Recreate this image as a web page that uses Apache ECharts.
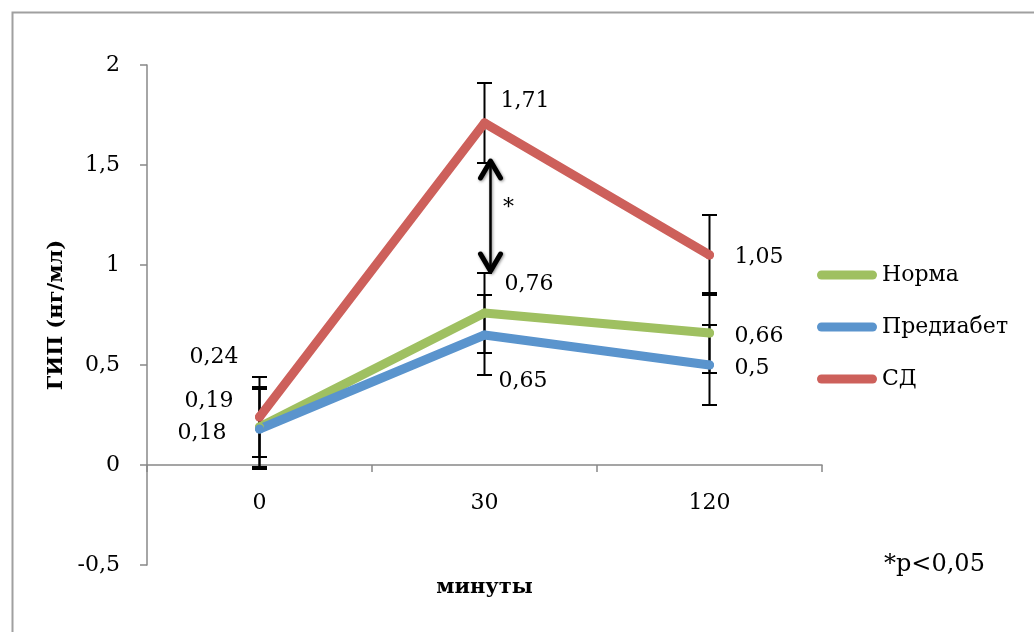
<!DOCTYPE html>
<html>
<head>
<meta charset="utf-8">
<script src="https://cdn.jsdelivr.net/npm/echarts@6/dist/echarts.min.js"></script>
<style>
html,body{margin:0;padding:0;background:#fff;}
#c{width:1034px;height:632px;}
</style>
</head>
<body>
<div id="c"></div>
<script>
const categories = ['0', '30', '120'];
const seriesNames = ['Норма', 'Предиабет', 'СД'];
const norma = [0.19, 0.76, 0.66];
const prediabet = [0.18, 0.65, 0.5];
const sd = [0.24, 1.71, 1.05];
const errNorma = [0.2, 0.2, 0.2];
const errPrediabet = [0.2, 0.2, 0.2];
const errSd = [0.2, 0.2, 0.2];
const yMin = -0.5, yMax = 2, yStep = 0.5;
const arrowFrom = 1.525, arrowTo = 0.965, arrowCat = 1;
const sigNote = '*p<0,05';

const FONT = 'DejaVu Serif';
const colors = ['#9FC061', '#5A94CD', '#CD605B'];
const fmt = v => String(v).replace('.', ',');

// label placement per point (style only)
const labelCfg = {
  'Норма':     [{align:'right', dx:-26, dy:-26}, {align:'left', dx:20, dy:-29}, {align:'left', dx:25, dy:3}],
  'Предиабет': [{align:'right', dx:-33, dy:4},   {align:'left', dx:14, dy:46},  {align:'left', dx:25, dy:3}],
  'СД':        [{align:'right', dx:-21, dy:-60}, {align:'left', dx:16, dy:-22}, {align:'left', dx:25, dy:2}]
};

function buildData(name, vals) {
  return vals.map((v, i) => {
    const c = labelCfg[name][i];
    return {
      value: v,
      label: {
        show: true, position: 'inside', align: c.align, verticalAlign: 'middle',
        offset: [c.dx, c.dy], formatter: fmt(v),
        color: '#000', fontFamily: FONT, fontSize: 22
      }
    };
  });
}

const groups = [[norma, errNorma], [prediabet, errPrediabet], [sd, errSd]];
const errData = [];
groups.forEach(([vals, errs]) => vals.forEach((v, i) => errData.push([i, v - errs[i], v + errs[i]])));

const chart = echarts.init(document.getElementById('c'));
const lineSeries = [norma, prediabet, sd].map((vals, k) => ({
  name: seriesNames[k],
  type: 'line',
  data: buildData(seriesNames[k], vals),
  symbol: 'circle',
  symbolSize: 9,
  itemStyle: {color: colors[k]},
  lineStyle: {color: colors[k], width: 9, cap: 'round', join: 'round'},
  z: 5,
  animation: false
}));

const option = {
  animation: false,
  backgroundColor: '#fff',
  color: colors,
  grid: {left: 147, right: 212, top: 65, bottom: 67, containLabel: false, outerBoundsMode: 'none'},
  legend: {
    orient: 'vertical', left: 817, top: 262, padding: 0,
    itemWidth: 60, itemHeight: 9, itemGap: 26,
    textStyle: {fontFamily: FONT, fontSize: 22, color: '#000', lineHeight: 26},
    data: seriesNames.map(n => ({name: n, icon: 'path://M4.5,0 L55.5,0 A4.5,4.5 0 0 1 55.5,9 L4.5,9 A4.5,4.5 0 0 1 4.5,0 Z'}))
  },
  xAxis: {
    type: 'category', data: categories, boundaryGap: true,
    name: 'минуты', nameLocation: 'middle', nameGap: 12,
    nameTextStyle: {fontFamily: FONT, fontSize: 21, fontWeight: 'bold', color: '#000'},
    axisLine: {onZero: true, lineStyle: {color: '#888', width: 1.5}},
    axisTick: {show: true, length: 7, alignWithLabel: false, lineStyle: {color: '#888', width: 1.5}},
    axisLabel: {margin: -73, fontFamily: FONT, fontSize: 22, color: '#000'},
    splitLine: {show: false}
  },
  yAxis: {
    type: 'value', min: yMin, max: yMax, interval: yStep,
    name: 'ГИП (нг/мл)', nameLocation: 'middle', nameGap: 78, nameRotate: 90,
    nameTextStyle: {fontFamily: FONT, fontSize: 21, fontWeight: 'bold', color: '#000'},
    axisLine: {show: true, lineStyle: {color: '#888', width: 1.5}},
    axisTick: {show: true, length: 7, lineStyle: {color: '#888', width: 1.5}},
    axisLabel: {margin: 27, fontFamily: FONT, fontSize: 22, color: '#000', formatter: v => fmt(v)},
    splitLine: {show: false}
  },
  series: [
    {
      type: 'custom',
      name: 'err',
      data: errData,
      z: 2,
      silent: true,
      renderItem: function (params, api) {
        const x = api.value(0);
        const lo = api.coord([x, api.value(1)]);
        const hi = api.coord([x, api.value(2)]);
        const hw = 7.5;
        const st = {stroke: '#000', lineWidth: 2};
        return {
          type: 'group',
          children: [
            {type: 'line', shape: {x1: lo[0], y1: lo[1], x2: hi[0], y2: hi[1]}, style: st},
            {type: 'line', shape: {x1: lo[0]-hw, y1: lo[1], x2: lo[0]+hw, y2: lo[1]}, style: st},
            {type: 'line', shape: {x1: hi[0]-hw, y1: hi[1], x2: hi[0]+hw, y2: hi[1]}, style: st}
          ]
        };
      }
    }
  ].concat(lineSeries)
};
chart.setOption(option);

// annotations: double arrow between SD and others at 30 min, and significance note
const pTop = chart.convertToPixel({xAxisIndex: 0, yAxisIndex: 0}, [arrowCat, arrowFrom]);
const pBot = chart.convertToPixel({xAxisIndex: 0, yAxisIndex: 0}, [arrowCat, arrowTo]);
const ax = pTop[0] + 6;
const shadow = {shadowBlur: 3, shadowColor: 'rgba(0,0,0,0.45)', shadowOffsetX: 1, shadowOffsetY: 1};
const chev = {stroke: '#000', lineWidth: 5, fill: 'none', lineCap: 'round', lineJoin: 'round'};
chart.setOption({
  graphic: [
    {type: 'rect', left: 10, top: 10, shape: {x: 0, y: 0, width: 1040, height: 640},
     style: {fill: 'none', stroke: '#a0a0a0', lineWidth: 2}, z: 0, silent: true},
    {type: 'line', shape: {x1: ax, y1: pTop[1] + 2, x2: ax, y2: pBot[1] - 2},
     style: Object.assign({stroke: '#000', lineWidth: 2.5}, shadow), z: 10},
    {type: 'polyline', shape: {points: [[ax - 10, pTop[1] + 18], [ax, pTop[1] + 1], [ax + 10, pTop[1] + 18]]},
     style: Object.assign({}, chev, shadow), z: 10},
    {type: 'polyline', shape: {points: [[ax - 10, pBot[1] - 18], [ax, pBot[1] - 1], [ax + 10, pBot[1] - 18]]},
     style: Object.assign({}, chev, shadow), z: 10},
    {type: 'text', x: ax + 18, y: (pTop[1] + pBot[1]) / 2 - 8,
     style: {text: '*', fontFamily: FONT, fontSize: 22, fill: '#000', align: 'center', verticalAlign: 'middle'}, z: 10},
    {type: 'text', left: 884, top: 553,
     style: {text: sigNote, fontFamily: FONT, fontSize: 24, fill: '#000'}, z: 10}
  ]
});
</script>
</body>
</html>
